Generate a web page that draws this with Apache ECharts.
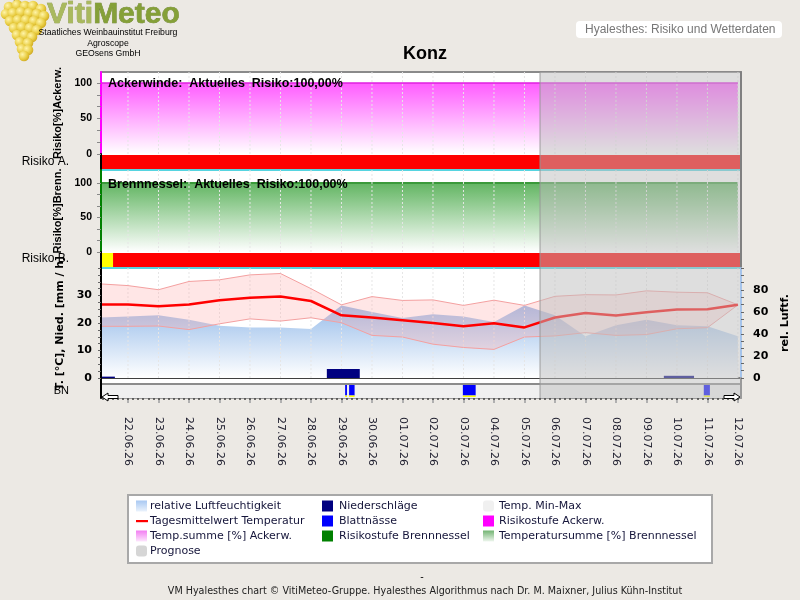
<!DOCTYPE html>
<html>
<head>
<meta charset="utf-8">
<script src="https://cdn.jsdelivr.net/npm/echarts@6/dist/echarts.min.js"></script>
<style>
html,body{margin:0;padding:0;background:#ECE9E4;}
#chart{width:800px;height:600px;}
</style>
</head>
<body>
<div id="chart"></div>
<script>
// ---------- DATA ----------
const dateLabels = ['22.06.26','23.06.26','24.06.26','25.06.26','26.06.26','27.06.26','28.06.26','29.06.26','30.06.26','01.07.26','02.07.26','03.07.26','04.07.26','05.07.26','06.07.26','07.07.26','08.07.26','09.07.26','10.07.26','11.07.26','12.07.26'];
const labelDays = [0,1,2,3,4,5,6,7,8,9,10,11,12,13,14,15,16,17,18,19,20];
const xMin = -0.885, xMax = 20.1;
const progStart = 13.51;
// x position (days since 22.06) of the daily weather values
const dayPos = [-0.885,0,1,2,3,4,5,6,7,8,9,10,11,12,13,14,15,16,17,18,19,20];
const tMean = [26.7,26.7,26.1,26.7,28.3,29.2,29.6,28.0,22.8,22.0,21.0,20.0,18.8,19.9,18.4,22.0,23.6,22.7,23.9,24.9,25.0,26.6];
const tMax  = [34.2,33.6,32.1,35.1,35.7,37.5,38.0,32.5,26.6,29.6,28.2,28.4,26.4,28.3,26.4,29.7,30.3,30.2,31.7,31.2,31.0,26.6];
const tMin  = [18.8,18.8,18.9,17.6,19.7,21.5,20.7,21.9,20.1,15.5,14.9,12.3,11.1,10.4,14.9,15.3,16.5,15.5,15.8,17.9,18.3,26.6];
const humidity = [55,56,57,53,47.5,46,46,44.5,66,60,54.5,58,56,51,66,57,38,48,53,48,47,38];
const tsumAcker = [100,100,100,100,100,100,100,100,100,100,100,100,100,100,100,100,100,100,100,100,100,100];
const tsumBrenn = [100,100,100,100,100,100,100,100,100,100,100,100,100,100,100,100,100,100,100,100,100,100];
// [start day, end day, mm]
const precip = [[-0.885,-0.43,0.5],[6.52,7.6,3.3],[17.57,18.56,0.8]];
// [start day, end day]
const leafWet = [[7.12,7.18],[7.25,7.43],[10.98,11.40],[18.88,19.08]];
// [start day, end day, level]
const riskAcker = [[-0.885,20.1,3]];
const riskBrenn = [[-0.885,-0.49,1],[-0.49,20.1,3]];
const riskColors = {1:'#ffff00',2:'#ffa500',3:'#ff0000'};
const riskTickLabels = [0,50,100];
const tempTickLabels = [0,10,20,30];
const humTickLabels = [0,20,40,60,80];

// ---------- helpers ----------
const ticksAB = []; for (let k=0;k<=6;k++) ticksAB.push(k*50/3);
const ticksT = []; for (let k=0;k<=16;k++) ticksT.push(k*2.5);
const ticksH = []; for (let k=0;k<=15;k++) ticksH.push(k*20/3);
const minorX = []; for (let k=-5;k<=120;k++) minorX.push(k/6);
const LIB = '"Liberation Sans", Arial, sans-serif';
const DJV = '"DejaVu Sans", Verdana, sans-serif';
const LG = (c0,c1)=>new echarts.graphic.LinearGradient(0,0,0,1,[{offset:0,color:c0},{offset:1,color:c1}]);

function vgridRender(params, api){
  const cs = params.coordSys;
  const x = api.coord([api.value(0),0])[0];
  return {type:'line', shape:{x1:x,y1:cs.y,x2:x,y2:cs.y+cs.height}, style:{stroke:'#e6e6e6',lineWidth:1,lineDash:[2,2]}};
}
function riskRender(params, api){
  const cs = params.coordSys;
  const a = api.coord([api.value(0),0.5]), b = api.coord([api.value(1),0.5]);
  return {type:'rect', shape:{x:a[0],y:cs.y+1,width:b[0]-a[0],height:cs.height-2}, style:{fill:riskColors[api.value(2)]}};
}
function progRender(params, api){
  const cs = params.coordSys;
  const a = api.coord([api.value(0),0]), b = api.coord([api.value(1),0]);
  return {type:'group', children:[
    {type:'rect', shape:{x:a[0],y:cs.y,width:b[0]-a[0],height:cs.height}, style:{fill:'rgba(190,190,190,0.5)'}},
    {type:'line', shape:{x1:a[0],y1:cs.y,x2:a[0],y2:cs.y+cs.height}, style:{stroke:'rgba(150,150,150,0.6)',lineWidth:1.5}}
  ]};
}
function tBandRender(params, api){
  if (params.dataIndex !== 0) return null;
  const up = dayPos.map((x,i)=>api.coord([x,tMax[i]]));
  const lo = dayPos.map((x,i)=>api.coord([x,tMin[i]])).reverse();
  return {type:'polygon', shape:{points:up.concat(lo)}, style:{fill:'rgba(255,165,165,0.28)'}};
}
function precipRender(params, api){
  const a = api.coord([api.value(0),api.value(2)]), b = api.coord([api.value(1),0]);
  return {type:'rect', shape:{x:a[0],y:a[1],width:b[0]-a[0],height:b[1]-a[1]}, style:{fill:'#000080'}};
}
function stripRender(params, api){
  const cs = params.coordSys;
  return {type:'group', children:[
    {type:'rect', shape:{x:cs.x,y:cs.y+6,width:cs.width,height:cs.height-6}, style:{fill:'#f0f0f0'}},
    {type:'line', shape:{x1:cs.x,y1:cs.y+6,x2:cs.x+cs.width,y2:cs.y+6}, style:{stroke:'#8c8c8c',lineWidth:2}}
  ]};
}
function leafRender(params, api){
  const cs = params.coordSys;
  const a = api.coord([api.value(0),0]), b = api.coord([api.value(1),0]);
  const top = cs.y+7, bot = cs.y+cs.height-1;
  return {type:'group', children:[
    {type:'rect', shape:{x:a[0],y:top,width:b[0]-a[0],height:bot-top-1.5}, style:{fill:'#0000ff'}},
    {type:'rect', shape:{x:a[0],y:bot-1.5,width:b[0]-a[0],height:1.5}, style:{fill:'#ffff00'}}
  ]};
}

// ---------- axes ----------
const gridBase = {left:101, width:640, show:true, backgroundColor:'#ffffff', borderWidth:0, outerBoundsMode:'none'};
const grids = [
  Object.assign({}, gridBase, {top:72, height:82}),
  Object.assign({}, gridBase, {top:154, height:16}),
  Object.assign({}, gridBase, {top:170, height:82}),
  Object.assign({}, gridBase, {top:252, height:16}),
  Object.assign({}, gridBase, {top:268, height:110}),
  Object.assign({}, gridBase, {top:378, height:20})
];
function xAx(gi, extra){
  return Object.assign({type:'value', gridIndex:gi, min:xMin, max:xMax, position:'bottom',
    axisLine:{show:false, onZero:false}, axisTick:{show:false}, axisLabel:{show:false}, splitLine:{show:false}}, extra||{});
}
const xAxes = [
  xAx(0,{position:'top', axisLine:{show:true,onZero:false,lineStyle:{color:'#8a8a8a',width:2}}}),
  xAx(1,{axisLine:{show:true,onZero:false,lineStyle:{color:'#1fc6d6',width:1.5}}}),
  xAx(2),
  xAx(3,{axisLine:{show:true,onZero:false,lineStyle:{color:'#1fc6d6',width:1.5}}}),
  xAx(4,{axisLine:{show:true,onZero:false,lineStyle:{color:'#000',width:1.5}}}),
  xAx(5,{axisLine:{show:true,onZero:false,lineStyle:{color:'#9a9a9a',width:2}},
    axisTick:{show:true, customValues:labelDays, length:5, lineStyle:{color:'#b0b0b0',width:2}},
    axisLabel:{show:true, customValues:labelDays, rotate:-90, margin:19, formatter:(v)=>dateLabels[Math.round(v)],
      color:'#202030', fontSize:11, fontFamily:DJV}}),
  xAx(5,{axisTick:{show:true, customValues:minorX, length:2, lineStyle:{color:'#444',width:1.5}}})
];
function yFrame(gi, max, pos, color, extra){
  return Object.assign({type:'value', gridIndex:gi, min:0, max:max, position:pos, z:10,
    axisLine:{show:true,onZero:false,lineStyle:{color:color,width:2}}, axisTick:{show:false}, axisLabel:{show:false}, splitLine:{show:false}}, extra||{});
}
const nameStyleL = {fontWeight:'bold', fontSize:11, color:'#000', fontFamily:LIB};
const yAxes = [
  yFrame(0,115.5,'left','#ff00ff',{axisTick:{show:true,customValues:ticksAB,length:4,lineStyle:{color:'#888'}},
    axisLabel:{show:true,customValues:riskTickLabels,margin:9,fontWeight:'bold',fontSize:10.5,color:'#000',fontFamily:LIB},
    name:'Risiko[%]Ackerw.', nameLocation:'middle', nameRotate:90, nameGap:38, nameTextStyle:nameStyleL}),
  yFrame(0,115.5,'right','#808080'),
  yFrame(1,1,'left','#000'),
  yFrame(1,1,'right','#808080'),
  yFrame(2,118.8,'left','#008000',{axisTick:{show:true,customValues:ticksAB,length:4,lineStyle:{color:'#888'}},
    axisLabel:{show:true,customValues:riskTickLabels,margin:9,fontWeight:'bold',fontSize:10.5,color:'#000',fontFamily:LIB},
    name:'Risiko[%]Brenn.', nameLocation:'middle', nameRotate:90, nameGap:38, nameTextStyle:nameStyleL}),
  yFrame(2,118.8,'right','#808080'),
  yFrame(3,1,'left','#000'),
  yFrame(3,1,'right','#808080'),
  yFrame(4,40,'left','#000',{axisTick:{show:true,customValues:ticksT,length:3,lineStyle:{color:'#666'}},
    axisLabel:{show:true,customValues:tempTickLabels,margin:9,fontWeight:'bold',fontSize:11,color:'#000',fontFamily:DJV},
    name:'T. [°C], Nied. [mm / h]', nameLocation:'middle', nameRotate:90, nameGap:34,
    nameTextStyle:{fontWeight:'bold',fontSize:11,color:'#000',fontFamily:DJV}}),
  yFrame(4,100,'right','#a6c4ea',{axisTick:{show:true,customValues:ticksH,length:3,lineStyle:{color:'#666'}},
    axisLabel:{show:true,customValues:humTickLabels,margin:12,fontWeight:'bold',fontSize:11,color:'#000',fontFamily:DJV},
    name:'rel. Luftf.', nameLocation:'middle', nameRotate:90, nameGap:34,
    nameTextStyle:{fontWeight:'bold',fontSize:11,color:'#000',fontFamily:DJV}}),
  yFrame(5,1,'left','#000'),
  yFrame(5,1,'right','#9a9a9a')
];

// ---------- series ----------
const vgridData = labelDays.map(d=>[d,0]);
const progData = [[progStart,xMax]];
const series = [
  {type:'custom', name:'grid0', xAxisIndex:0, yAxisIndex:0, z:3, silent:true, data:vgridData, renderItem:vgridRender},
  {type:'line', name:'Temp.summe [%] Ackerw.', xAxisIndex:0, yAxisIndex:0, z:2, showSymbol:false,
    data:dayPos.map((x,i)=>[x,tsumAcker[i]]), lineStyle:{color:'#e020e0',width:1.5},
    areaStyle:{color:LG('#ff5cff','#ffffff'),opacity:1}},
  {type:'custom', name:'Risikostufe Ackerw.', xAxisIndex:1, yAxisIndex:2, z:2, data:riskAcker, renderItem:riskRender},
  {type:'custom', name:'grid2', xAxisIndex:2, yAxisIndex:4, z:3, silent:true, data:vgridData, renderItem:vgridRender},
  {type:'line', name:'Temperatursumme [%] Brennnessel', xAxisIndex:2, yAxisIndex:4, z:2, showSymbol:false,
    data:dayPos.map((x,i)=>[x,tsumBrenn[i]]), lineStyle:{color:'#3a9a3a',width:2},
    areaStyle:{color:LG('#62b562','#ffffff'),opacity:1}},
  {type:'custom', name:'Risikostufe Brennnessel', xAxisIndex:3, yAxisIndex:6, z:2, data:riskBrenn, renderItem:riskRender},
  {type:'line', name:'relative Luftfeuchtigkeit', xAxisIndex:4, yAxisIndex:9, z:2, showSymbol:false,
    data:dayPos.map((x,i)=>[x,humidity[i]]), lineStyle:{width:0},
    areaStyle:{color:LG('#98bdea','#ffffff'),opacity:1}},
  {type:'custom', name:'grid4', xAxisIndex:4, yAxisIndex:8, z:3, silent:true, data:vgridData, renderItem:vgridRender},
  {type:'custom', name:'Temp. Min-Max', xAxisIndex:4, yAxisIndex:8, z:3,
    data:dayPos.map((x,i)=>[x,tMin[i],tMax[i]]), renderItem:tBandRender},
  {type:'line', name:'Tmax', xAxisIndex:4, yAxisIndex:8, z:4, showSymbol:false,
    data:dayPos.map((x,i)=>[x,tMax[i]]), lineStyle:{color:'#f4a0a0',width:1}},
  {type:'line', name:'Tmin', xAxisIndex:4, yAxisIndex:8, z:4, showSymbol:false,
    data:dayPos.map((x,i)=>[x,tMin[i]]), lineStyle:{color:'#f4a0a0',width:1}},
  {type:'custom', name:'Niederschläge', xAxisIndex:4, yAxisIndex:8, z:4, data:precip, renderItem:precipRender},
  {type:'line', name:'Tagesmittelwert Temperatur', xAxisIndex:4, yAxisIndex:8, z:5, showSymbol:false,
    data:dayPos.map((x,i)=>[x,tMean[i]]), lineStyle:{color:'#ff0000',width:2.5}},
  {type:'custom', name:'strip', xAxisIndex:5, yAxisIndex:10, z:2, silent:true, data:[[xMin,xMax]], renderItem:stripRender},
  {type:'custom', name:'Blattnässe', xAxisIndex:5, yAxisIndex:10, z:3, data:leafWet, renderItem:leafRender}
];
[[0,0],[1,2],[2,4],[3,6],[4,8],[5,10]].forEach(p=>{
  series.push({type:'custom', name:'Prognose', xAxisIndex:p[0], yAxisIndex:p[1], z:8, silent:true, data:progData, renderItem:progRender});
});

// ---------- graphics ----------
const G = [];
const txt = (x,y,text,font,fill,align,va,extra)=>Object.assign({type:'text', x:x, y:y, z:100,
  style:{text:text, font:font, fill:fill||'#000', align:align||'left', verticalAlign:va||'middle'}}, extra||{});
// grapes logo (decoration)
G.push({type:'line', z:100, shape:{x1:14,y1:0,x2:26,y2:5}, style:{stroke:'#8a7a30',lineWidth:2}});
const grapes = [[9,7],[17,5],[25,6],[33,6],[41,9],[6,14],[13,13],[21,12],[29,13],[37,14],[44,16],[10,21],[18,20],[26,20],[34,21],[41,23],[14,28],[22,27],[30,28],[37,30],[17,35],[25,35],[32,37],[20,42],[28,43],[22,49],[28,50],[24,56]];
grapes.forEach(g=>G.push({type:'circle', z:100, shape:{cx:g[0],cy:g[1],r:5.3},
  style:{fill:new echarts.graphic.RadialGradient(0.35,0.35,0.75,[{offset:0,color:'#fff4a8'},{offset:0.6,color:'#e8cc40'},{offset:1,color:'#c9a21e'}])}}));
G.push({type:'text', x:47, y:15, z:100, style:{text:'{a|Viti}{b|Meteo}', verticalAlign:'middle',
  rich:{a:{fill:'#a9b95e', fontSize:30, fontWeight:'bold', fontFamily:LIB, stroke:'#7d8c3a', lineWidth:0.6},
        b:{fill:'#85a038', fontSize:30, fontWeight:'bold', fontFamily:LIB, stroke:'#5f7628', lineWidth:0.6}}}});
G.push(txt(108,33,'Staatliches Weinbauinstitut Freiburg','8.7px '+LIB,'#000','center'));
G.push(txt(108,44,'Agroscope','8.7px '+LIB,'#000','center'));
G.push(txt(108,54,'GEOsens GmbH','8.7px '+LIB,'#000','center'));
// header box
G.push({type:'rect', z:100, shape:{x:576,y:21,width:206,height:17,r:4}, style:{fill:'#ffffff'}});
G.push(txt(585,30,'Hyalesthes: Risiko und Wetterdaten','12px '+LIB,'#777'));
// title
G.push(txt(425,54,'Konz','bold 18px '+LIB,'#000','center'));
// panel texts
G.push(txt(108,84,'Ackerwinde:  Aktuelles  Risiko:100,00%','bold 12.5px '+LIB,'#000'));
G.push(txt(108,185,'Brennnessel:  Aktuelles  Risiko:100,00%','bold 12.5px '+LIB,'#000'));
G.push(txt(69,162,'Risiko A.','12px '+LIB,'#000','right'));
G.push(txt(69,259,'Risiko B.','12px '+LIB,'#000','right'));
G.push(txt(69,391,'BN','11px '+LIB,'#000','right'));
// scroll arrows
G.push({type:'polygon', z:100, shape:{points:[[102,397],[108,393],[108,395.5],[118,395.5],[118,398.5],[108,398.5],[108,401]]}, style:{fill:'#fff',stroke:'#000',lineWidth:1}});
G.push({type:'polygon', z:100, shape:{points:[[740,397],[734,393],[734,395.5],[724,395.5],[724,398.5],[734,398.5],[734,401]]}, style:{fill:'#fff',stroke:'#000',lineWidth:1}});
// legend
G.push({type:'rect', z:99, shape:{x:128,y:495,width:584,height:68}, style:{fill:'#ffffff',stroke:'#a8a8a8',lineWidth:2}});
const legendItems = [
  ['relative Luftfeuchtigkeit', {fill:LG('#a8c8f2','#eaf2fc')}],
  ['Niederschläge', {fill:'#000080'}],
  ['Temp. Min-Max', {fill:'#f0f0f0'}, 3],
  ['Tagesmittelwert Temperatur', 'line'],
  ['Blattnässe', {fill:'#0000ff'}],
  ['Risikostufe Ackerw.', {fill:'#ff00ff'}],
  ['Temp.summe [%] Ackerw.', {fill:LG('#f27ef2','#fde6fd')}],
  ['Risikostufe Brennnessel', {fill:'#008000'}],
  ['Temperatursumme [%] Brennnessel', {fill:LG('#72b472','#eef6ee')}],
  ['Prognose', {fill:'#d6d6d6'}, 3]
];
const legIconX = [136,322,483], legTextX = [150,339,499], legRowY = [506,521,536,551];
legendItems.forEach((it,i)=>{
  const col = i%3, row = Math.floor(i/3);
  const ix = legIconX[col], y = legRowY[row];
  if (it[1]==='line') G.push({type:'rect', z:100, shape:{x:ix,y:y-1,width:12,height:2.2}, style:{fill:'#ff0000'}});
  else G.push({type:'rect', z:100, shape:{x:ix,y:y-5.5,width:11,height:11,r:it[2]||0}, style:it[1]});
  G.push(txt(legTextX[col],y,it[0],'11px '+DJV,'#15153a'));
});
// footer
G.push(txt(422,577,'-','9.6px '+DJV,'#000','center'));
G.push(txt(425,591,'VM Hyalesthes chart © VitiMeteo-Gruppe. Hyalesthes Algorithmus nach Dr. M. Maixner, Julius Kühn-Institut','9.6px '+DJV,'#202020','center'));

const chart = echarts.init(document.getElementById('chart'));
chart.setOption({
  backgroundColor:'#ECE9E4',
  animation:false,
  grid:grids,
  xAxis:xAxes,
  yAxis:yAxes,
  series:series,
  graphic:{elements:G}
});
</script>
</body>
</html>
